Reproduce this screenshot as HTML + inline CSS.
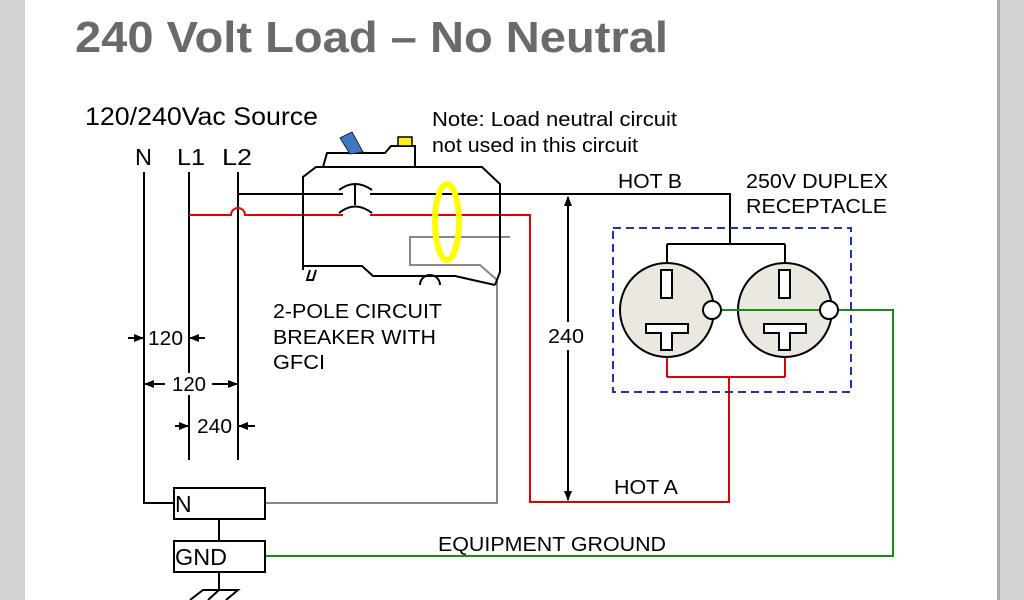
<!DOCTYPE html>
<html><head><meta charset="utf-8"><style>
html,body{margin:0;padding:0;background:#fff;}
svg{display:block;font-family:"Liberation Sans",Arial,sans-serif;}
</style></head><body>
<svg width="1024" height="600" viewBox="0 0 1024 600" xmlns="http://www.w3.org/2000/svg">
<defs>
<marker id="ah" markerWidth="10" markerHeight="8" refX="9" refY="4" orient="auto" markerUnits="userSpaceOnUse"><path d="M0,0 L10,4 L0,8 z" fill="#000"/></marker>
</defs>
<rect x="0" y="0" width="1024" height="600" fill="#fff"/>
<rect x="0" y="0" width="25" height="600" fill="#d2d2d2"/>
<rect x="997" y="0" width="27" height="600" fill="#d2d2d2"/>
<rect x="997" y="0" width="3" height="600" fill="#aaa"/>
<g>
<text x="75" y="52" font-size="44" font-weight="bold" fill="#6a6a6a" textLength="593" lengthAdjust="spacingAndGlyphs">240 Volt Load – No Neutral</text>
<text x="85" y="125" font-size="25" textLength="233" lengthAdjust="spacingAndGlyphs">120/240Vac Source</text>
<text x="135" y="165" font-size="23" textLength="17" lengthAdjust="spacingAndGlyphs">N</text>
<text x="177" y="165" font-size="23" textLength="28" lengthAdjust="spacingAndGlyphs">L1</text>
<text x="222" y="165" font-size="23" textLength="30" lengthAdjust="spacingAndGlyphs">L2</text>
<text x="432" y="126" font-size="20" textLength="245" lengthAdjust="spacingAndGlyphs">Note:  Load neutral circuit</text>
<text x="432" y="152" font-size="20" textLength="206" lengthAdjust="spacingAndGlyphs">not used in this circuit</text>
<text x="618" y="188" font-size="20" textLength="64" lengthAdjust="spacingAndGlyphs">HOT B</text>
<text x="746" y="188" font-size="20" textLength="142" lengthAdjust="spacingAndGlyphs">250V DUPLEX</text>
<text x="746" y="213" font-size="20" textLength="141" lengthAdjust="spacingAndGlyphs">RECEPTACLE</text>
<text x="273" y="318" font-size="20" textLength="169" lengthAdjust="spacingAndGlyphs">2-POLE CIRCUIT</text>
<text x="273" y="344" font-size="20" textLength="163" lengthAdjust="spacingAndGlyphs">BREAKER WITH</text>
<text x="273" y="369" font-size="20" textLength="52" lengthAdjust="spacingAndGlyphs">GFCI</text>
<text x="614" y="494" font-size="20" textLength="64" lengthAdjust="spacingAndGlyphs">HOT A</text>
<text x="438" y="551" font-size="20" textLength="228" lengthAdjust="spacingAndGlyphs">EQUIPMENT GROUND</text>
</g>

<g fill="none" stroke-width="2">
<path d="M144,172 V503 H174" stroke="#000"/>
<path d="M189,172 V460" stroke="#000"/>
<path d="M238,172 V460" stroke="#000"/>
<path d="M238,194 H343 M370,194 H730 V244 M667,244 H785 M667,244 V270 M785,244 V270" stroke="#000"/>
<path d="M189,215 H231 A7,7 0 0 1 245,215 H343 M370,215 H530 V502 H729 V377 M667,377 H785 M667,377 V350 M785,377 V350" stroke="#d00"/>
<path d="M510,237 H410 V265 H480 L497,280 V503 H265" stroke="#888"/>
<path d="M721,310 H893 V556 H265" stroke="#1a8a1a"/>
<path d="M303,270 V177 L316,167 H482 L500,184 V272 L495,285 M303,266 H362 L373,276 H455 L495,285" stroke="#000"/>
<path d="M323,167 L327,153 H385 L391,146 H415 V167" stroke="#000"/>
<path d="M310,270 L307,280 H313 L316,270" stroke="#000"/>
<path d="M420,285 A10,10 0 0 1 440,285" stroke="#000"/>
<path d="M339,190 Q355,178 372,190 M355,184 V205 M339,213 Q355,200 372,213" stroke="#000"/>
<path d="M568,500 V197" stroke="#000" marker-end="url(#ah)"/>
<path d="M568,330 V500" stroke="#000" marker-end="url(#ah)"/>
<path d="M128,338 H143" stroke="#000" marker-end="url(#ah)"/>
<path d="M205,338 H190" stroke="#000" marker-end="url(#ah)"/>
<path d="M165,384 H145" stroke="#000" marker-end="url(#ah)"/>
<path d="M212,384 H237" stroke="#000" marker-end="url(#ah)"/>
<path d="M175,426 H188" stroke="#000" marker-end="url(#ah)"/>
<path d="M255,426 H239" stroke="#000" marker-end="url(#ah)"/>
<rect x="174" y="488" width="91" height="31" stroke="#000"/>
<rect x="174" y="541" width="91" height="31" stroke="#000"/>
<path d="M219,519 V541 M219,572 V590 M190,600 L203,590 H238 L226,600 M208,600 L219,590" stroke="#000"/>
<rect x="613" y="228" width="238" height="164" stroke="#2233aa" stroke-dasharray="8,5"/>
</g>
<polygon points="340,138 352,132 363,152 350,154" fill="#3d78c0" stroke="#223" stroke-width="1"/>
<rect x="398" y="137" width="14" height="9" fill="#ffee22" stroke="#000" stroke-width="1.5"/>
<ellipse cx="447" cy="222" rx="12" ry="38" fill="none" stroke="#ffff00" stroke-width="6"/>
<rect x="546" y="322" width="44" height="28" fill="#fff"/>
<text x="548" y="343" font-size="20" textLength="36" lengthAdjust="spacingAndGlyphs">240</text>
<rect x="147" y="326" width="40" height="24" fill="#fff"/>
<text x="148" y="345" font-size="20" textLength="35" lengthAdjust="spacingAndGlyphs">120</text>
<rect x="184" y="373" width="10" height="22" fill="#fff"/>
<text x="172" y="391" font-size="20" textLength="34" lengthAdjust="spacingAndGlyphs">120</text>
<text x="197" y="433" font-size="20" textLength="35" lengthAdjust="spacingAndGlyphs">240</text>
<text x="175" y="512" font-size="23">N</text>
<text x="175" y="565" font-size="23" textLength="52" lengthAdjust="spacingAndGlyphs">GND</text>
<g stroke="#000" stroke-width="2">
<circle cx="667" cy="310" r="47" fill="#ebe8e0"/>
<circle cx="785" cy="310" r="47" fill="#ebe8e0"/>
<rect x="661" y="270" width="11" height="28" fill="#fff"/>
<rect x="779" y="270" width="11" height="28" fill="#fff"/>
<path d="M646,324 H688 V333 H672 V350 H661 V333 H646 Z" fill="#fff"/>
<path d="M764,324 H806 V333 H790 V350 H779 V333 H764 Z" fill="#fff"/>
</g>
<path d="M721,310 H820" stroke="#1a8a1a" stroke-width="2"/>
<circle cx="712" cy="310" r="9" fill="#fff" stroke="#000" stroke-width="2"/>
<circle cx="829" cy="310" r="9" fill="#fff" stroke="#000" stroke-width="2"/>
</svg>
</body></html>
